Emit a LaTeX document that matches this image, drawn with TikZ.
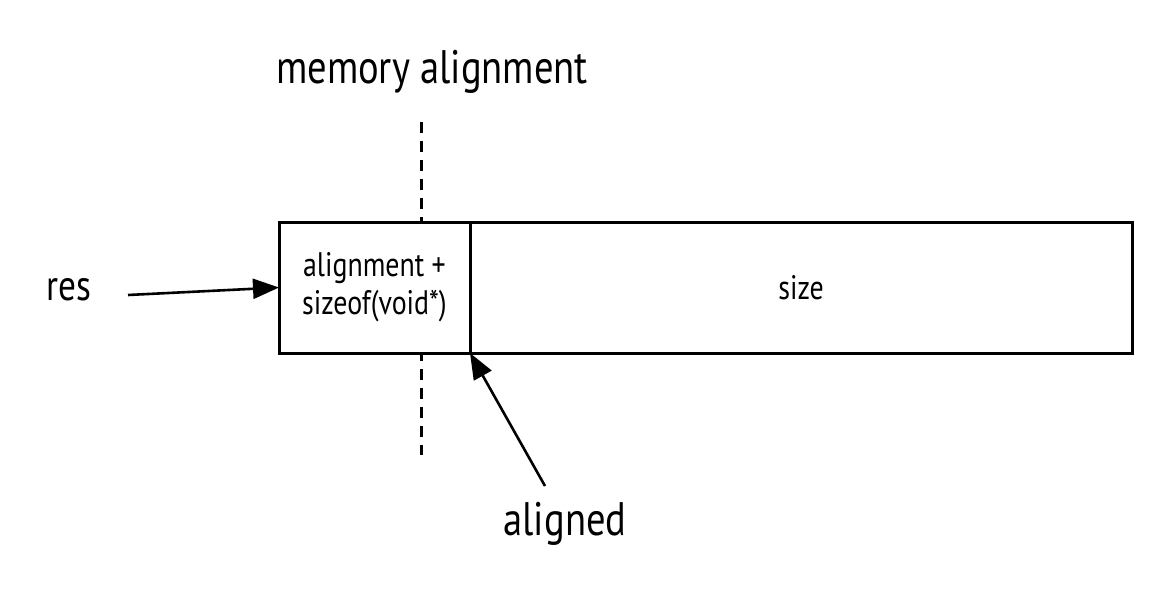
\documentclass[tikz,border=0pt]{standalone}
\usepackage{fontspec}
\setmainfont[FakeStretch=0.82]{PT Sans}
\usetikzlibrary{arrows.meta}
\usetikzlibrary{positioning}
\tikzstyle{mem_cell} = [
    rectangle,
    draw=black,
    fill=white,
    line width=3pt,
    align=center,
    inner sep=0pt,
    outer sep=0pt,
    minimum height=131pt,
    font=\fontsize{34}{38}\selectfont
]
\tikzstyle{big_label} = [
    inner sep=0pt,
    font=\fontsize{47}{52}\selectfont
]
\tikzstyle{pointer} = [
    line width=2.6pt,
    -{Triangle[length=26pt,width=20pt]}
]

\begin{document}
\begin{tikzpicture}[x=1pt, y=-1pt]
\useasboundingbox (0,0) rectangle (1164,600);
% dashed marker behind the header cell
\coordinate (mark_top) at (421,122);
\coordinate (mark_bot) at (421,455);
\draw [line width=3pt, dash pattern=on 11pt off 8pt] (mark_top) -- (mark_bot);
\node [mem_cell, minimum width=191pt] (header) at (374.5,287.5)
    {alignment +\\sizeof(void*)};
\node [mem_cell, minimum width=662pt, anchor=west] (body) at (header.east)
    {size};
\node [big_label] (align_label) at (432,72) {memory alignment};
\node [big_label, font=\fontsize{43}{48}\selectfont] (res) at (68.5,290) {res};
\node [big_label] (aligned) at (565,524) {aligned};
\coordinate (res_start) at (128,295);
\coordinate (aligned_start) at (545,486);
\draw [pointer] (res_start) -- (header.west);
\draw [pointer] (aligned_start) -- (header.south east);
\end{tikzpicture}
\end{document}
